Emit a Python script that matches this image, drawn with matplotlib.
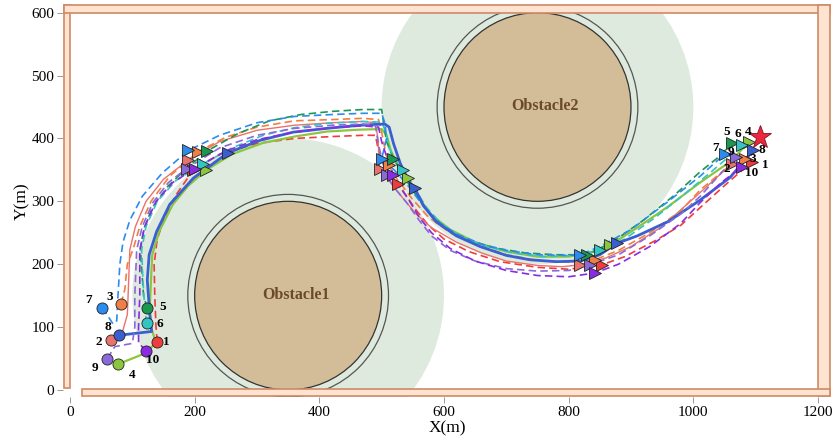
import matplotlib.pyplot as plt
from matplotlib.patches import Circle, Rectangle

# Agents 1..10
agent_ids = [1, 2, 3, 4, 5, 6, 7, 8, 9, 10]
colors = ['#f03c3c', '#e8736c', '#f07f45', '#8cc63f', '#1a9850',
          '#35c4c4', '#2b8cf0', '#3a5fd0', '#8a6ad8', '#8a2be2']
styles = ['--', '-', '--', '-', '--', '--', '--', '-', '--', '--']
widths = [1.2, 1.0, 1.2, 1.6, 1.2, 1.2, 1.2, 2.0, 1.2, 1.2]

# Start positions
start_x = [140, 66, 82, 77, 124, 123, 52, 79, 60, 122]
start_y = [77, 80, 137, 41, 130, 106, 131, 87, 50, 62]

# Trajectories
path_1 = [(140, 77), (138, 100), (136, 150), (135, 200), (140, 240), (152, 275), (170, 310), (198, 350),
          (240, 375), (300, 392), (360, 400), (420, 403), (470, 405), (490, 405), (495, 380), (505, 355),
          (518, 340), (527, 328), (540, 308), (556, 285), (575, 262), (600, 240), (640, 220), (690, 204),
          (750, 195), (800, 192), (853, 199), (890, 212), (940, 238), (980, 262), (1011, 290),
          (1050, 325), (1094, 363)]
path_2 = [(66, 80), (85, 95), (92, 120), (94, 170), (96, 223), (105, 260), (122, 300), (150, 335),
          (190, 366), (240, 395), (300, 413), (360, 421), (420, 425), (470, 427), (490, 425), (494, 400),
          (497, 352), (510, 335), (530, 310), (555, 280), (580, 258), (620, 235), (660, 218), (700, 205),
          (750, 198), (790, 196), (818, 199), (860, 210), (900, 228), (950, 260), (1011, 314),
          (1062, 360)]
path_3 = [(82, 137), (88, 160), (92, 200), (101, 223), (112, 260), (130, 300), (160, 340), (206, 379),
          (250, 402), (300, 418), (360, 428), (420, 430), (470, 432), (495, 430), (500, 410), (505, 385),
          (511, 358), (525, 335), (548, 305), (575, 275), (610, 250), (650, 232), (700, 215), (750, 206),
          (800, 203), (842, 207), (880, 222), (930, 250), (980, 285), (1011, 318), (1050, 350),
          (1083, 368)]
path_4 = [(77, 41), (120, 58), (138, 75), (130, 100), (128, 130), (130, 175), (132, 215), (143, 252),
          (165, 295), (190, 325), (219, 350), (260, 375), (310, 393), (360, 403), (412, 411), (465, 414),
          (500, 415), (508, 405), (515, 380), (525, 360), (543, 337), (560, 305), (580, 278), (610, 255),
          (650, 235), (700, 220), (750, 212), (800, 212), (840, 220), (866, 230), (910, 258), (960, 292),
          (1011, 330), (1059, 363), (1090, 395)]
path_5 = [(124, 130), (118, 150), (113, 223), (118, 255), (132, 290), (158, 325), (190, 355), (220, 380),
          (270, 408), (320, 428), (370, 438), (420, 443), (470, 446), (500, 446), (503, 425), (508, 395),
          (519, 368), (535, 340), (555, 310), (578, 280), (605, 255), (640, 238), (680, 226), (730, 218),
          (780, 215), (829, 215), (870, 235), (920, 270), (970, 310), (1011, 347), (1040, 370),
          (1062, 392)]
path_6 = [(123, 106), (120, 130), (117, 175), (115, 223), (122, 260), (140, 300), (170, 333), (214, 360),
          (260, 385), (310, 405), (360, 417), (412, 424), (470, 427), (500, 426), (507, 410), (512, 385),
          (522, 365), (535, 350), (553, 321), (572, 290), (595, 265), (625, 245), (665, 229), (710, 218),
          (760, 212), (810, 214), (850, 222), (890, 240), (940, 275), (990, 315), (1030, 348),
          (1078, 389)]
path_7 = [(52, 131), (69, 105), (75, 110), (77, 150), (80, 200), (85, 235), (96, 270), (116, 308),
          (148, 345), (190, 381), (240, 405), (300, 425), (360, 435), (420, 438), (470, 440), (500, 440),
          (505, 425), (508, 400), (500, 368), (520, 350), (540, 328), (565, 295), (590, 268), (620, 248),
          (660, 232), (700, 222), (750, 215), (800, 214), (818, 215), (850, 228), (900, 255), (960, 300),
          (1011, 340), (1051, 376)]
path_8 = [(79, 87), (105, 90), (131, 93), (128, 120), (124, 175), (127, 215), (139, 252), (160, 295),
          (198, 337), (253, 377), (305, 397), (358, 410), (412, 416), (465, 421), (505, 423), (512, 418),
          (519, 392), (530, 360), (545, 329), (553, 321), (567, 293), (588, 267), (620, 245), (658, 228),
          (700, 214), (738, 207), (780, 204), (818, 205), (850, 215), (877, 233), (910, 245), (960, 268),
          (1011, 302), (1059, 338), (1096, 381)]
path_9 = [(60, 50), (72, 69), (100, 74), (104, 100), (104, 150), (107, 223), (116, 260), (133, 298),
          (158, 330), (187, 352), (240, 385), (300, 405), (360, 416), (420, 421), (470, 423), (490, 420),
          (495, 390), (502, 360), (508, 342), (520, 322), (540, 298), (560, 270), (580, 245), (610, 222),
          (650, 205), (700, 193), (750, 189), (800, 190), (834, 199), (880, 215), (930, 245), (980, 280),
          (1011, 308), (1040, 340), (1069, 371)]
path_10 = [(122, 62), (110, 75), (110, 100), (112, 150), (112, 223), (120, 260), (138, 300), (165, 330),
           (200, 352), (250, 380), (300, 398), (360, 410), (420, 417), (470, 420), (495, 418), (500, 395),
           (510, 365), (519, 342), (530, 322), (545, 300), (560, 275), (580, 250), (610, 225), (650, 205),
           (700, 190), (750, 182), (800, 180), (842, 186), (880, 200), (930, 228), (980, 265),
           (1011, 298), (1045, 330), (1078, 355)]
paths = [path_1, path_2, path_3, path_4, path_5, path_6, path_7, path_8, path_9, path_10]

# Formation snapshots (triangle markers), agent order 1..10
snap1_x = [198, 190, 206, 219, 220, 214, 190, 253, 187, 200]
snap1_y = [350, 366, 379, 350, 380, 360, 381, 377, 352, 352]
snap2_x = [527, 497, 511, 543, 519, 535, 500, 553, 508, 519]
snap2_y = [328, 352, 358, 337, 368, 350, 368, 321, 342, 342]
snap3_x = [853, 818, 842, 866, 829, 850, 818, 877, 834, 842]
snap3_y = [199, 199, 207, 230, 215, 222, 215, 233, 199, 186]
final_x = [1094, 1062, 1083, 1090, 1062, 1078, 1051, 1096, 1069, 1078]
final_y = [363, 360, 368, 395, 392, 389, 376, 381, 371, 355]

goal_x, goal_y = 1107, 403

# Label positions
start_lab_x = [154, 47, 64, 99, 149, 144, 30, 61, 40, 133]
start_lab_y = [76, 76, 148, 24, 132, 105, 143, 100, 35, 48]
final_lab_x = [1115, 1054, 1096, 1088, 1054, 1072, 1035, 1110, 1060, 1094]
final_lab_y = [358, 351, 367, 411, 411, 407, 385, 382, 379, 345]

# Obstacles
obs_x = [350, 750]
obs_y = [150, 450]
obs_names = ['Obstacle1', 'Obstacle2']
obs_r = 150
ring_r = 161
safe_r = 250

fig = plt.figure(figsize=(8.39, 4.42), dpi=100)
ax = fig.add_axes([0.0745, 0.1007, 0.9168, 0.8905])
ax.set_xlim(-12, 1222)
ax.set_ylim(-12, 614)

serif = 'Liberation Serif'

for cx, cy, name in zip(obs_x, obs_y, obs_names):
    ax.add_patch(Circle((cx, cy), safe_r, facecolor='#dfeadf', edgecolor='none', zorder=1))
    ax.add_patch(Circle((cx, cy), ring_r, facecolor='none', edgecolor='#555555', lw=0.9, zorder=2))
    ax.add_patch(Circle((cx, cy), obs_r, facecolor='#d2bd98', edgecolor='#333333', lw=0.9, zorder=2))
    ax.text(cx + 12, cy + 1, name, ha='center', va='center', fontsize=11.5, fontweight='bold',
            color='#6b4a2b', family=serif, zorder=6)

# Walls
wall_fc = '#fde3d0'
wall_ec = '#d08a66'
walls = [(-10, 3, 10, 609), (-10, 600, 1230, 12), (1200, -10, 20, 622), (20, -10, 1200, 12)]
for wx, wy, ww, wh in walls:
    ax.add_patch(Rectangle((wx, wy), ww, wh, facecolor=wall_fc, edgecolor=wall_ec, lw=1.2,
                           zorder=3, clip_on=False))

# Trajectories
for p, c, ls, lw in zip(paths, colors, styles, widths):
    xs = [q[0] for q in p]
    ys = [q[1] for q in p]
    if ls == '--':
        ax.plot(xs, ys, color=c, lw=lw, dashes=(4.5, 2.5), zorder=4)
    else:
        ax.plot(xs, ys, color=c, lw=lw, zorder=4)

# Triangles for formation snapshots
for sx, sy in [(snap1_x, snap1_y), (snap2_x, snap2_y), (snap3_x, snap3_y), (final_x, final_y)]:
    for x, y, c in zip(sx, sy, colors):
        ax.plot(x, y, marker='>', ms=8, color=c, mec='#222222', mew=0.6, zorder=5)

# Start circles
for x, y, c in zip(start_x, start_y, colors):
    ax.plot(x, y, marker='o', ms=8, color=c, mec='#222222', mew=0.6, zorder=5)

ax.plot(goal_x, goal_y, marker='*', ms=17, color='#e8283c', mec='#8a1020', mew=0.6, zorder=6)

for i, lx, ly in zip(agent_ids, start_lab_x, start_lab_y):
    ax.text(lx, ly, str(i), ha='center', va='center', fontsize=9.5, fontweight='bold',
            family=serif, zorder=6)
for i, lx, ly in zip(agent_ids, final_lab_x, final_lab_y):
    ax.text(lx, ly, str(i), ha='center', va='center', fontsize=9.5, fontweight='bold',
            family=serif, zorder=6)

for s in ax.spines.values():
    s.set_visible(False)
ax.set_xticks([0, 200, 400, 600, 800, 1000, 1200])
ax.set_yticks([0, 100, 200, 300, 400, 500, 600])
ax.tick_params(length=4, width=0.6, color='#888888', labelsize=11, pad=2)
for lab in ax.get_xticklabels() + ax.get_yticklabels():
    lab.set_family(serif)
ax.set_xlabel('X(m)', fontsize=12.5, family=serif, labelpad=1)
ax.set_ylabel('Y(m)', fontsize=12.5, family=serif, labelpad=1)

fig.savefig('out.png', dpi=100)
